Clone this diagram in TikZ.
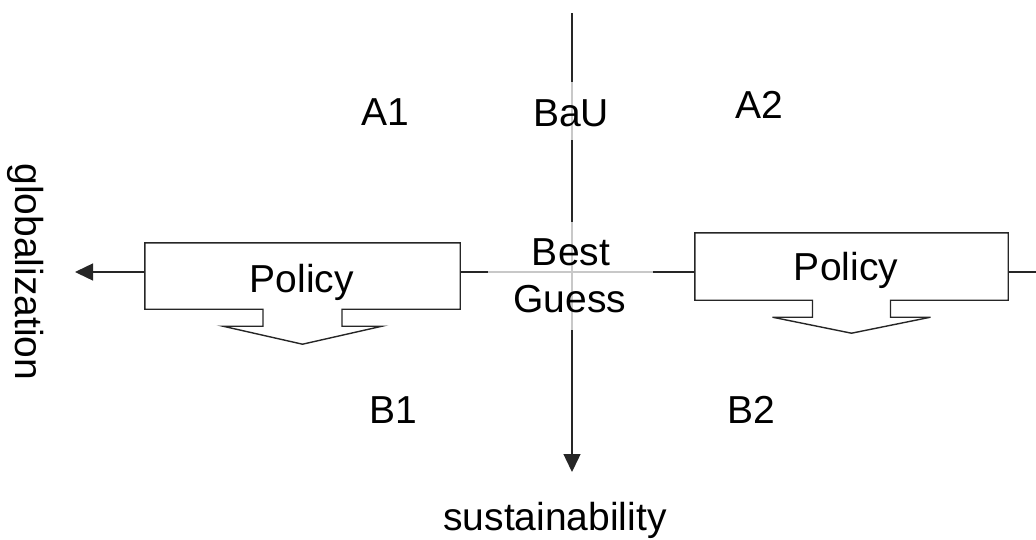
\documentclass[tikz,border=0pt]{standalone}
\usepackage{fontspec}
\setmainfont{Liberation Sans}
\usetikzlibrary{arrows.meta,calc}
\tikzset{
  axisline/.style={line width=1.4pt, draw=black!85},
  boxline/.style={line width=1.4pt, draw=black!85, line join=miter},
  lbl/.style={inner sep=0pt, anchor=base, font=\fontsize{39}{47}\selectfont},
  veil/.style={fill=white, fill opacity=0.75, draw=none, inner sep=0pt},
  tip/.style={-{Triangle[length=18pt,width=17pt]}}
}
\begin{document}
\begin{tikzpicture}[x=1pt,y=-1pt]
\useasboundingbox (0,0) rectangle (1036,539);
% anchors of axes
\coordinate (top) at (572,13);
\coordinate (bot) at (572,472);
\coordinate (L) at (75,272);
\coordinate (R) at (1040,272);
% policy boxes (outlines drawn as callouts below)
\node[minimum width=315pt, minimum height=66pt, inner sep=0pt] (P1) at (302.5,276) {};
\node[minimum width=313pt, minimum height=67pt, inner sep=0pt] (P2) at (851.5,266.5) {};
% axes
\draw[axisline,tip] (top) -- (bot);
\draw[axisline,tip] (P1.west |- L) -- (L);
\draw[axisline] (P1.east |- L) -- (P2.west |- L);
\draw[axisline] (P2.east |- L) -- (R);
% callout outlines
\draw[boxline] (P1.north west) -- (P1.north east) -- (P1.south east)
  -- ($(P1.south)+(39.5,0)$) -- ($(P1.south)+(39.5,17)$) -- ($(P1.south)+(79.5,17)$)
  -- ($(P1.south)+(0,35)$) -- ($(P1.south)+(-79.5,17)$) -- ($(P1.south)+(-39.5,17)$)
  -- ($(P1.south)+(-39.5,0)$) -- (P1.south west) -- cycle;
\draw[boxline] (P2.north west) -- (P2.north east) -- (P2.south east)
  -- ($(P2.south)+(39,0)$) -- ($(P2.south)+(39,17)$) -- ($(P2.south)+(79,17)$)
  -- ($(P2.south)+(0,33)$) -- ($(P2.south)+(-79,17)$) -- ($(P2.south)+(-39,17)$)
  -- ($(P2.south)+(-39,0)$) -- (P2.south west) -- cycle;
% semi-transparent text backgrounds
\node[veil, minimum width=165pt, minimum height=108pt] (bgbg) at (570.5,276) {};
\node[veil, minimum width=84pt, minimum height=58pt] (bgbau) at (571,111) {};
% labels
\node[lbl] (pol1) at (302,292) {Policy};
\node[lbl] (pol2) at (846,280) {Policy};
\node[lbl] (best) at (571,265) {Best};
\node[lbl] (guess) at (570,312) {Guess};
\node[lbl] (bau) at (571,126) {BaU};
\node[lbl] (a1) at (385,125) {A1};
\node[lbl] (a2) at (759,118) {A2};
\node[lbl] (b1) at (393,423) {B1};
\node[lbl] (b2) at (751,423) {B2};
\node[lbl] (sust) at (555,530) {sustainability};
\node[lbl, rotate=-90] (glob) at (16,272) {globalization};
\end{tikzpicture}
\end{document}
